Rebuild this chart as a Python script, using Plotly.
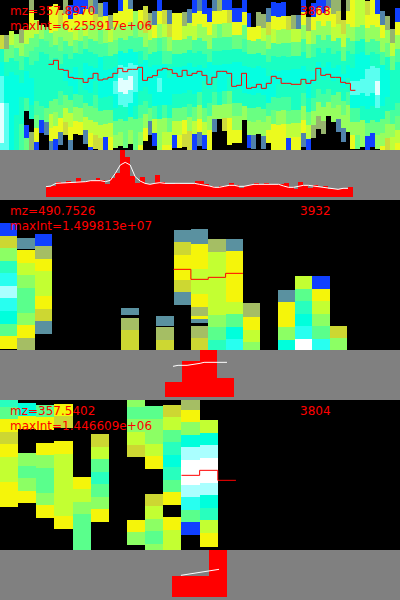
import plotly.graph_objects as go

# ---------- palettes of intensity levels (0 = no signal) ----------
LEVEL_COLORS = [
    "rgb(0,0,0)", "rgb(16,64,255)", "rgb(90,145,160)", "rgb(165,190,100)", "rgb(205,215,50)",
    "rgb(245,245,10)", "rgb(195,255,50)", "rgb(140,255,100)", "rgb(90,255,140)", "rgb(40,255,190)",
    "rgb(0,255,220)", "rgb(40,255,240)", "rgb(170,255,255)", "rgb(255,255,255)",
]
LEVEL_COLORS_1 = [
    "rgb(0,0,0)", "rgb(16,64,255)", "rgb(80,130,170)", "rgb(150,180,110)", "rgb(205,220,60)",
    "rgb(235,250,30)", "rgb(190,255,60)", "rgb(150,255,95)", "rgb(105,255,130)", "rgb(70,255,160)",
    "rgb(25,255,195)", "rgb(5,255,225)", "rgb(90,255,240)", "rgb(225,255,255)",
]

# ---------- panel 1: mz=357.8970 ----------
TOPS_1 = [35, 35, 31, 34, 29, 30, -3, 20, 25, 27, 6, 4, 10, 0, 5, -1, 0, -5, -2, 0, 3,
          2, 15, 13, -3, -1, -5, 11, 10, 6, 13, 11, -3, 10, 10, 13, 13, 12, 9, -1, -3,
          0, 8, -3, -3, -4, -4, 8, 8, -2, 13, 27, 12, 14, 8, 2, 3, 2, 16, 15, 15,
          -2, 17, 3, -6, -1, -6, 0, -3, 20, -3, 0, 0, -2, 1, -2, 0, 11, 16, 29, 8]
LEVELS_1 = [
    [4,10,11,12,12,13,13,13,12], [3,8,10,11,11,12,12,12,12], [6,8,10,11,11,11,11,11,11,10],
    [7,9,10,11,11,11,10,10,10,10], [3,7,9,10,11,10,10,9,9,9,9], [6,8,10,11,11,9,0,1,8],
    [3,5,6,8,9,10,11,11,10,0,3,3], [6,8,9,10,10,10,9,8,5,1], [7,9,10,10,10,10,9,1,0,0],
    [8,9,10,10,10,10,8,2,0], [5,5,8,9,10,10,10,8,6,5,2], [5,5,7,9,10,10,10,8,7,5,1],
    [4,7,8,9,10,10,9,8,5,2,0], [3,5,7,9,10,11,10,8,6,4,0], [1,5,7,9,10,11,10,8,6,5,2],
    [1,5,6,8,10,11,11,9,7,5,0], [1,5,7,9,10,10,10,9,7,5,0], [1,5,6,8,10,11,11,10,8,6,2,0],
    [3,5,7,9,10,11,11,10,8,6,5,1], [2,4,7,9,10,11,10,9,8,6,4], [3,6,8,9,11,11,11,10,8,6,4],
    [1,5,7,9,10,11,11,10,8,6,1], [3,6,8,10,11,11,10,8,6,5], [5,7,8,10,11,12,11,10,8,7],
    [1,5,7,9,11,12,13,12,10,8,7,0], [5,5,7,9,11,12,13,12,10,8,8,0], [2,5,7,9,11,12,13,12,11,8,7,0],
    [7,8,9,11,12,12,11,10,8,8,8], [5,7,9,10,11,11,10,9,8,7,5], [4,4,7,9,11,11,10,9,7,5,0],
    [3,6,8,10,11,11,10,8,2,0], [2,5,8,10,11,11,11,9,6,1,0], [1,5,7,9,10,11,12,11,10,7,7,7],
    [4,6,8,9,11,11,11,9,7,6,5], [2,4,7,9,10,11,11,10,8,6,5], [5,5,8,10,11,11,10,8,6,1],
    [5,5,8,10,11,11,10,8,6,5], [3,6,8,10,11,11,10,8,5,4], [2,6,8,10,11,11,10,9,7,4,4],
    [1,5,6,9,10,11,11,10,8,6,1,1], [2,5,7,9,10,11,11,9,7,5,2],
    [1,5,7,9,10,11,10,10,8,6,1], [1,5,7,9,11,11,10,9,7,5,5,0], [2,5,7,9,10,11,10,9,7,2,0],
    [3,5,8,9,10,11,11,10,7,0,0], [1,5,7,9,10,11,11,9,7,4,0], [1,4,7,9,10,11,10,8,7,5,5,0],
    [1,5,8,10,11,11,10,8,7,5,0], [1,5,8,10,11,11,10,8,7,5,0], [1,5,8,9,10,11,11,10,7,0,0],
    [1,5,8,10,11,11,10,8,7,1], [5,8,10,11,11,10,8,7,2], [3,5,8,10,11,11,10,8,7,0],
    [3,6,8,10,11,11,10,8,7,2], [2,4,7,9,10,11,11,9,7,5,0], [1,5,6,9,10,11,11,9,8,5,5,0],
    [1,5,7,9,10,11,10,9,7,5,5,0], [1,5,7,9,10,11,10,9,7,5,5,0], [4,7,9,10,11,10,9,8,6,1],
    [3,6,8,10,11,10,10,8,6,5,0], [2,6,8,10,11,10,10,8,6,5,0],
    [1,5,7,9,10,11,10,9,7,5,2], [3,6,8,10,11,11,10,8,6,1], [1,5,7,9,10,11,10,9,7,3,0],
    [1,5,7,9,10,11,10,9,7,3,0], [1,5,7,9,10,11,10,9,7,3,0], [2,5,7,9,10,11,10,9,7,0],
    [3,5,6,9,10,11,10,8,7,0], [3,4,6,9,10,11,10,8,7,2,0], [4,6,8,10,11,10,8,7,2],
    [3,5,7,9,10,11,10,9,7,7,0], [5,5,7,9,10,11,12,11,9,7,5], [6,6,8,10,11,11,12,11,9,7,8,0],
    [6,6,8,10,11,11,12,11,10,7,7,0], [4,5,7,9,11,12,12,11,10,8,1], [5,5,7,9,10,12,12,11,10,8,1],
    [1,5,7,9,10,12,13,12,10,8,7], [2,5,7,9,11,11,11,10,8,7,5], [3,7,8,10,11,11,10,8,7,4],
    [3,6,8,10,10,10,9,7,6,6], [1,5,7,9,10,10,10,9,8,6,5,3],
]
ROW_H_1 = 13.5
RED_1 = [193, 181, 208, 211, 232, 235, 236, 247, 235, 220, 240, 237, 232, 220, 205, 215, 208, 208, 202, 241,
         232, 227, 210, 205, 209, 220, 229, 211, 226, 220, 214, 226, 253, 232, 214, 214, 220, 259, 256, 220,
         265, 262, 253, 265, 250, 229, 235, 250, 250, 253, 253, 238, 250, 241, 205, 226, 223, 232, 232, 247,
         250, 271]
BARS_1 = [110, 107, 96, 100, 93, 99, 84, 97, 92, 91, 84, 91, 103, 84, 68, 0, 21, 78, 100, 81, 102, 103, 75, 96,
          103, 101, 100, 103, 101, 101, 94, 93, 103, 107, 112, 107, 109, 99, 106, 113, 109, 105, 99, 103, 99,
          103, 103, 103, 99, 112, 117, 96, 106, 114, 106, 110, 108, 116, 118, 118, 114, 111]
WHITE_1 = [110, 108, 100, 99, 98, 98, 98, 97, 95, 92, 92, 92, 95, 91, 70, 45, 37, 45, 80, 93, 100, 103, 100, 98,
           100, 100, 100, 100, 100, 100, 100, 103, 105, 108, 112, 112, 109, 106, 106, 109, 109, 106, 103, 103,
           103, 103, 103, 103, 108, 112, 112, 109, 106, 106, 108, 110, 112, 116, 118, 118, 115, 115]

# ---------- panel 2: mz=490.7526 ----------
COLS_2 = [0, 1, 2, 7, 9, 10, 11, 12, 13, 14, 16, 17, 18, 19]
EDGES_2 = [
    [69,108,144,183,219,258,294,333,372,408,447],
    [114,147,150,189,225,264,300,339,375,414,450],
    [102,138,177,213,250,288,327,363,402],
    [324,345,354,390,450],
    [348,378,381,420,450],
    [90,126,165,210,240,276,315],
    [87,132,168,207,243,282,321,348,357,369,378,414,450],
    [117,156,192,234,267,306,345,381,420,450],
    [117,153,192,228,267,306,342,381,417,450],
    [309,351,390,426,450],
    [270,306,345,381,420,450],
    [228,267,303,342,378,417,450],
    [228,267,303,342,378,417,450],
    [378,414,450],
]
LEVELS_2 = [
    [1,4,7,9,11,12,11,10,8,5],
    [2,0,5,6,7,8,8,7,5,3],
    [1,3,5,6,6,5,4,2],
    [2,0,3,4],
    [2,0,3,4],
    [2,4,5,5,4,2],
    [2,5,5,6,6,5,3,5,2,0,3,4],
    [3,6,6,6,6,6,7,8,9],
    [2,5,5,5,5,6,8,10,11],
    [3,5,6,7],
    [2,5,5,7,10],
    [6,8,9,10,11,13],
    [1,5,6,7,8,11],
    [4,7],
]
RED_2_X = [10, 11, 12, 13]
RED_2 = [208, 238, 232, 220]
BARS_2_X = [9.5, 10.5, 11.5, 12.5]
BARS_2 = [96, 33, 0, 84]
WHITE_2_X = [9.47, 9.76, 10.28, 10.8, 11.03, 11.26, 12.58]
WHITE_2 = [49, 46, 46, 43, 40, 37, 37]

# ---------- panel 3: mz=357.5402 ----------
COLS_3 = [0, 1, 2, 3, 4, 5, 7, 8, 9, 10, 11]
EDGES_3 = [
    [0,21,57,96,132,171,207,246,282,321],
    [9,48,87,159,198,234,273,309],
    [15,50,90,129,165,204,243,279,315,354],
    [12,48,85,123,162,198,237,276,312,348,387],
    [231,267,306,342,381,417,450],
    [102,141,177,216,252,291,327,366],
    [0,21,57,96,135,171,360,396,435],
    [18,57,96,132,168,207,282,318,357,393,432,450],
    [15,51,90,126,165,201,240,276,315,351,390,426,450],
    [0,30,66,105,141,180,219,255,291,330,366,405],
    [60,99,135,174,210,249,285,324,360,399,441],
]
LEVELS_3 = [
    [9,8,5,4,5,6,6,5,5],
    [10,5,0,7,8,7,5],
    [8,5,0,5,7,8,8,7,5],
    [5,4,0,5,6,6,6,6,6,5],
    [5,6,7,8,8,8],
    [4,6,8,9,8,7,5],
    [7,8,7,6,4,0,5,7],
    [8,7,7,6,5,0,4,6,7,8,7],
    [4,6,8,9,10,9,8,5,0,5,6,6],
    [3,5,7,10,12,13,13,12,11,8,1],
    [6,10,12,13,13,12,10,9,6,5],
]
RED_3_X = [10, 11, 12]
RED_3 = [226, 211, 241]
BARS_3_X = [9.5, 10.5, 11.5]
BARS_3 = [78, 78, 0]
WHITE_3_X = [9.47, 9.97, 10.46, 11.07, 11.57]
WHITE_3 = [76, 72, 66, 61, 58]

# ---------- texts ----------
LABELS = [
    ("mz=357.8970", "maxInt=6.255917e+06", "3868"),
    ("mz=490.7526", "maxInt=1.499813e+07", "3932"),
    ("mz=357.5402", "maxInt=1.446609e+06", "3804"),
]

RED = "#ff0000"
GREY = "#808080"


def norm_scale(colors):
    n = len(colors) - 1
    return [[i / n, c] for i, c in enumerate(colors)]


def cells_from_rows(tops, levels, row_h):
    xs, bases, hs, vals = [], [], [], []
    for k, (top, col) in enumerate(zip(tops, levels)):
        for i, v in enumerate(col):
            if v:
                xs.append(k)
                bases.append((top + i * row_h) * 3)
                hs.append(row_h * 3)
                vals.append(v)
    return xs, bases, hs, vals


def cells_from_edges(cols, edges, levels):
    xs, bases, hs, vals = [], [], [], []
    for c, e, lv in zip(cols, edges, levels):
        for i, v in enumerate(lv):
            if v:
                xs.append(c)
                bases.append(e[i])
                hs.append(e[i + 1] - e[i])
                vals.append(v)
    return xs, bases, hs, vals


fig = go.Figure()


def add_panel(n, colors, cells, red_x, red_y, bar_x, bar_y, white_x, white_y):
    xa, ya_h, ya_g = f"x{n}", f"y{2 * n - 1}", f"y{2 * n}"
    xs, bases, hs, vals = cells
    fig.add_trace(go.Bar(x=xs, y=hs, base=bases, width=1, xaxis=xa, yaxis=ya_h,
                         marker=dict(color=vals, colorscale=norm_scale(colors), cmin=0,
                                     cmax=len(colors) - 1, line=dict(width=0)),
                         showlegend=False, hoverinfo="skip"))
    fig.add_trace(go.Scatter(x=red_x, y=red_y, xaxis=xa, yaxis=ya_h, mode="lines",
                             line=dict(color=RED, width=1, shape="hv"),
                             showlegend=False, hoverinfo="skip"))
    fig.add_trace(go.Bar(x=bar_x, y=[v - 141 for v in bar_y], base=[141] * len(bar_y), width=1,
                         xaxis=xa, yaxis=ya_g, marker=dict(color=RED, line=dict(width=0)),
                         showlegend=False, hoverinfo="skip"))
    fig.add_trace(go.Scatter(x=white_x, y=white_y, xaxis=xa, yaxis=ya_g, mode="lines",
                             line=dict(color="#ffffff", width=1),
                             showlegend=False, hoverinfo="skip"))


k1 = list(range(10, 72))
add_panel(1, LEVEL_COLORS_1, cells_from_rows(TOPS_1, LEVELS_1, ROW_H_1),
          [k - 0.5 for k in k1] + [71.5], RED_1 + [RED_1[-1]],
          [9.5 + i for i in range(len(BARS_1))], BARS_1,
          [9 + i for i in range(len(WHITE_1))], WHITE_1)
add_panel(2, LEVEL_COLORS, cells_from_edges(COLS_2, EDGES_2, LEVELS_2),
          [k - 0.5 for k in RED_2_X] + [RED_2_X[-1] + 0.5], RED_2 + [RED_2[-1]],
          BARS_2_X, BARS_2, WHITE_2_X, WHITE_2)
add_panel(3, LEVEL_COLORS, cells_from_edges(COLS_3, EDGES_3, LEVELS_3),
          [k - 0.5 for k in RED_3_X] + [RED_3_X[-1] + 0.5], RED_3 + [RED_3[-1]],
          BARS_3_X, BARS_3, WHITE_3_X, WHITE_3)

X_RANGES = [[-0.298, 80.51], [-0.5, 22.55], [-0.5, 21.54]]
layout = dict(width=400, height=600, margin=dict(l=0, r=0, t=0, b=0), autosize=False,
              paper_bgcolor=GREY, plot_bgcolor="rgba(0,0,0,0)", barmode="overlay",
              bargap=0, showlegend=False, shapes=[], annotations=[])
hidden = dict(visible=False, fixedrange=True, showgrid=False, zeroline=False)
for p in range(3):
    top = 1 - p / 3
    mid = top - 0.25
    bot = top - 1 / 3
    x = "xaxis" if p == 0 else f"xaxis{p + 1}"
    layout[x] = dict(hidden, domain=[0, 1], range=X_RANGES[p],
                     anchor="y" if p == 0 else f"y{2 * p + 1}")
    yh = "yaxis" if p == 0 else f"yaxis{2 * p + 1}"
    yg = f"yaxis{2 * p + 2}"
    layout[yh] = dict(hidden, domain=[mid, top], range=[450, 0],
                      anchor="x" if p == 0 else f"x{p + 1}")
    layout[yg] = dict(hidden, domain=[bot, mid], range=[150, 0],
                      anchor="x" if p == 0 else f"x{p + 1}")
    layout["shapes"].append(dict(type="rect", xref="paper", yref="paper", x0=0, x1=1, y0=mid, y1=top,
                                 fillcolor="#000000", line=dict(width=0), layer="below"))
    a, b, c = LABELS[p]
    font = dict(family="DejaVu Sans", size=12, color=RED)
    for txt, px, py in ((a, 9, 11), (b, 9, 26), (c, 299, 11)):
        layout["annotations"].append(dict(text=txt, xref="paper", yref="paper", x=px / 400,
                                          y=1 - (py + 200 * p) / 600, xanchor="left", yanchor="middle",
                                          showarrow=False, font=font, borderpad=0))
fig.update_layout(**layout)

fig.write_html("out.html", config=dict(displayModeBar=False, staticPlot=True),
               post_script="document.body.style.margin='0';document.documentElement.style.overflow='hidden';")
